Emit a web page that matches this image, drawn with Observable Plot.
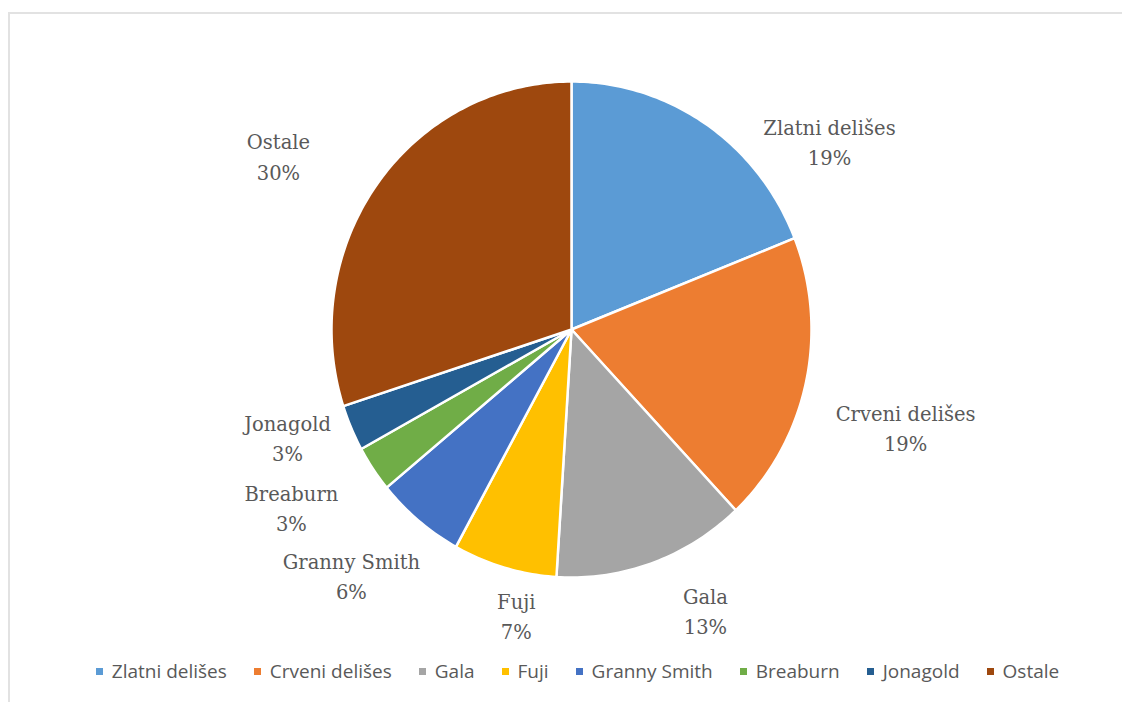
<!DOCTYPE html>
<html>
<head>
<meta charset="utf-8">
<script src="https://cdn.jsdelivr.net/npm/d3@7"></script>
<script src="https://cdn.jsdelivr.net/npm/@observablehq/plot@0.6"></script>
<style>
  html, body { margin: 0; padding: 0; background: #fff; overflow: hidden; }
  #wrap { position: relative; width: 1122px; height: 702px; }
  #frame { position: absolute; left: 8px; top: 12px; width: 1200px; height: 760px;
           border: 2px solid #e2e2e2; box-sizing: border-box; }
  #chart { position: absolute; left: 0; top: 0; }
  #legend { position: absolute; left: 0; top: 658px; width: 1155px;
            display: flex; justify-content: center; gap: 27px;
            font-family: "Open Sans", sans-serif; font-size: 19px; color: #595959; }
  #legend .item { display: flex; align-items: center; gap: 9px; white-space: nowrap; }
  #legend .sw { width: 7px; height: 7px; display: inline-block; }
</style>
</head>
<body>
<div id="wrap">
  <div id="frame"></div>
  <div id="chart"></div>
  <div id="legend"></div>
</div>
<script>
// ---- data ----
const categories = ["Zlatni delišes", "Crveni delišes", "Gala", "Fuji", "Granny Smith", "Breaburn", "Jonagold", "Ostale"];
const shares = [19, 19, 13, 7, 6, 3, 3, 30];
const colors = ["#5B9BD5", "#ED7D31", "#A5A5A5", "#FFC000", "#4472C4", "#70AD47", "#255E91", "#9E480E"];

// label anchor positions in the pie's unit coordinates (layout, "best fit" placement)
const labelU = [1.075, 1.392, 0.558, -0.23, -0.917, -1.167, -1.183, -1.221];
const labelV = [-0.764, 0.392, 1.128, 1.148, 0.988, 0.712, 0.432, -0.704];

// ---- geometry from data ----
const arcs = d3.pie().sort(null).value(d => d)(shares);
const slicePts = [];
arcs.forEach((a, i) => {
  const name = categories[i];
  slicePts.push({name, x: 0, y: 0});
  const n = Math.max(2, Math.ceil((a.endAngle - a.startAngle) / (Math.PI / 180)));
  for (let k = 0; k <= n; k++) {
    const t = a.startAngle + (a.endAngle - a.startAngle) * k / n;
    slicePts.push({name, x: Math.sin(t), y: -Math.cos(t)});
  }
  slicePts.push({name, x: 0, y: 0});
});
const labels = categories.map((c, i) => ({
  name: c, x: labelU[i], y: labelV[i], text: c + "\n" + shares[i] + "%"
}));

const plot = Plot.plot({
  width: 1122,
  height: 650,
  margin: 0,
  x: {domain: [-1, 1], range: [331, 811], axis: null},
  y: {domain: [-1, 1], range: [81, 577], axis: null},
  color: {domain: categories, range: colors},
  style: {background: "transparent", overflow: "visible"},
  marks: [
    Plot.line(slicePts, {x: "x", y: "y", z: "name", fill: "name", stroke: "white",
                         strokeWidth: 2.5, strokeLinejoin: "round", curve: "linear"}),
    Plot.text(labels, {x: "x", y: "y", text: "text", fill: "#595959",
                       fontFamily: "DejaVu Serif", fontSize: 19.5, lineHeight: 1.55})
  ]
});
document.getElementById("chart").appendChild(plot);

const legend = document.getElementById("legend");
categories.forEach((c, i) => {
  const it = document.createElement("div");
  it.className = "item";
  const sw = document.createElement("span");
  sw.className = "sw";
  sw.style.background = colors[i];
  const tx = document.createElement("span");
  tx.textContent = c;
  it.appendChild(sw); it.appendChild(tx);
  legend.appendChild(it);
});
</script>
</body>
</html>
